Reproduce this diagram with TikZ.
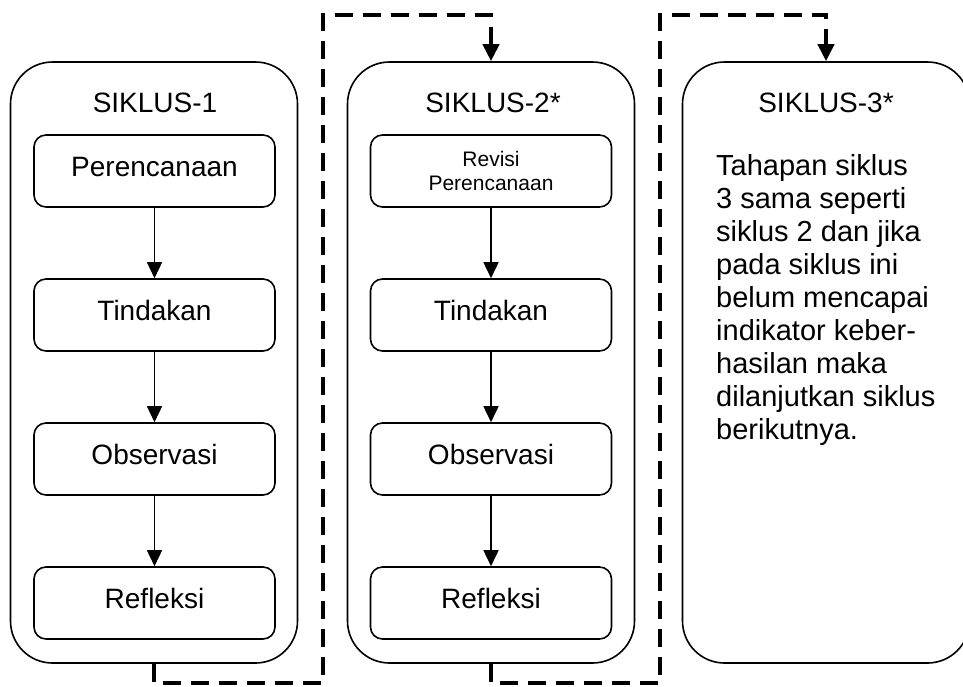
\documentclass[tikz,border=0pt]{standalone}
\usepackage{fontspec}
\setmainfont{Liberation Sans}
\usetikzlibrary{arrows.meta}
\begin{document}
\begin{tikzpicture}[x=1pt,y=-1pt,
  outerbox/.style={draw, line width=1.6pt, rounded corners=42pt, minimum width=287pt, minimum height=601pt, inner sep=0pt},
  stepbase/.style={draw, line width=1.6pt, rounded corners=12pt, minimum width=241pt, minimum height=72pt, inner sep=0pt, font=\fontsize{28}{32}\selectfont},
  stepbox/.style={stepbase, text height=18pt, text depth=8pt},
  title/.style={anchor=base, font=\fontsize{28}{32}\selectfont, inner sep=0pt},
  flow/.style={line width=1.6pt, -{Triangle[length=16pt,width=15pt]}},
  loop/.style={line width=4pt, line join=miter, dash pattern=on 18pt off 10pt, -{Triangle[length=17pt,width=16pt]}}]
\useasboundingbox (0,0) rectangle (963,686);

% outer cycle boxes
\node[outerbox] (o1) at (154,362.5) {};
\node[outerbox] (o2) at (491,362.5) {};
\node[outerbox] (o3) at (826,362.5) {};

% titles
\node[title] (t1) at (155,112) {SIKLUS-1};
\node[title] (t2) at (493,112) {SIKLUS-2*};
\node[title] (t3) at (826,112) {SIKLUS-3*};

% cycle 1
\node[stepbox] (p1) at (154.5,171) {Perencanaan};
\node[stepbox] (a1) at (154.5,315) {Tindakan};
\node[stepbox] (b1) at (154.5,459) {Observasi};
\node[stepbox] (r1) at (154.5,603) {Refleksi};
\draw[flow] (p1) -- (a1);
\draw[flow] (a1) -- (b1);
\draw[flow] (b1) -- (r1);

% cycle 2
\node[stepbase, align=center, font=\fontsize{21}{24}\selectfont] (p2) at (491,171) {Revisi\\Perencanaan};
\node[stepbox] (a2) at (491,315) {Tindakan};
\node[stepbox] (b2) at (491,459) {Observasi};
\node[stepbox] (r2) at (491,603) {Refleksi};
\draw[flow] (p2) -- (a2);
\draw[flow] (a2) -- (b2);
\draw[flow] (b2) -- (r2);

% cycle 3 text
\node[anchor=north west, align=left, inner sep=0pt, font=\fontsize{29}{33}\selectfont] (d3) at (716,154)
 {Tahapan siklus\\3 sama seperti\\siklus 2 dan jika\\pada siklus ini\\belum mencapai\\indikator keber-\\hasilan maka\\dilanjutkan siklus\\berikutnya.};

% dashed loop connectors
\coordinate (c1) at (323,683);
\coordinate (c2) at (323,15);
\coordinate (c3) at (660,683);
\coordinate (c4) at (660,15);
\draw[loop] (o1.south) |- (c1) -- (c2) -| (o2.north);
\draw[loop] (o2.south) |- (c3) -- (c4) -| (o3.north);
\end{tikzpicture}
\end{document}
